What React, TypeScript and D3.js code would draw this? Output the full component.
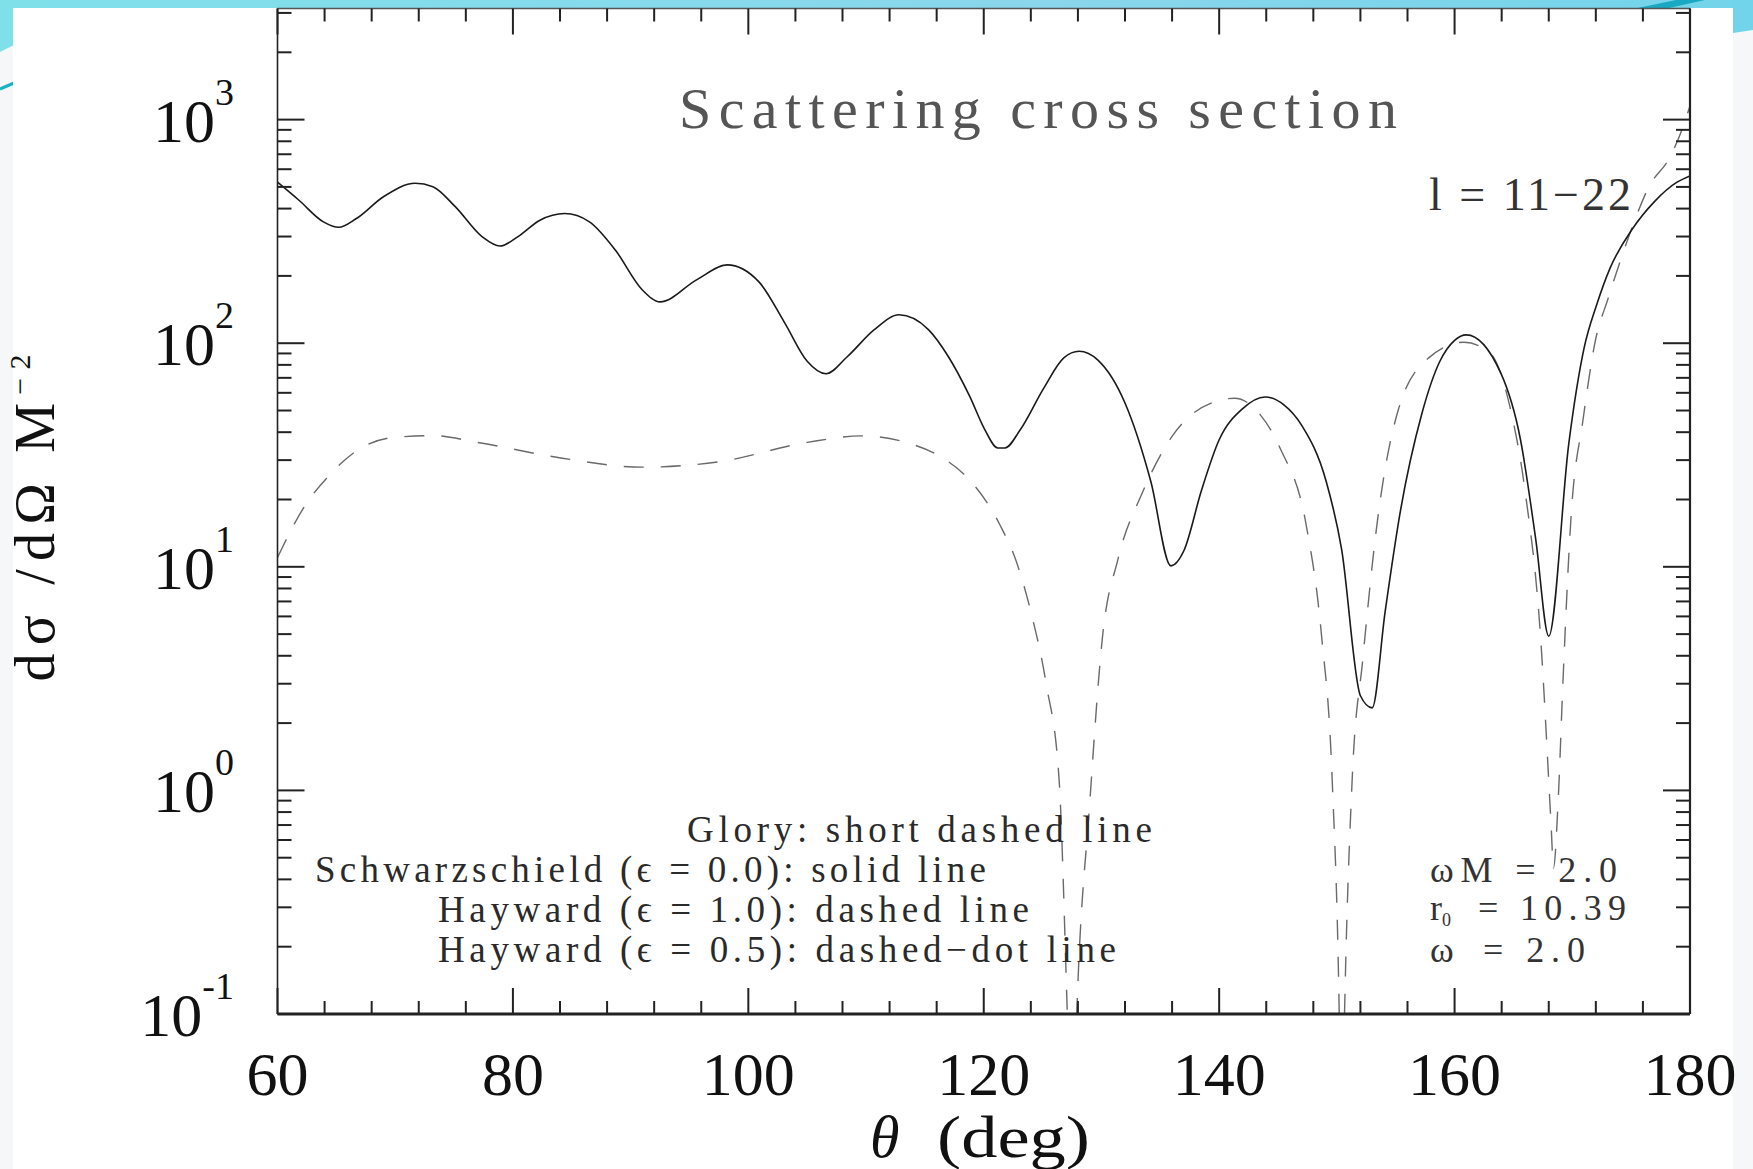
import React from 'react';
import * as d3 from 'd3';

// Schwarzschild (solid) differential cross section
const solidTheta = [60, 61.8, 63.9, 65.2, 66.7, 69.0, 71.7, 73.2, 75.1, 77.4, 78.9, 80.4, 82.3, 84.4, 86.5, 88.7, 91.0, 92.5, 95.6, 98.2, 100.9, 103.1, 105.0, 106.6, 108.4, 110.7, 112.8, 115.3, 117.0, 118.8, 120.1, 121.2, 121.8, 123.1, 125.1, 126.8, 128.1, 129.7, 132.0, 134.2, 135.9, 137.0, 138.5, 140.0, 142.0, 143.9, 145.5, 147.0, 149.1, 150.4, 152.0, 153.0, 154.1, 155.4, 157.2, 158.7, 160.0, 161.0, 163.9, 165.6, 166.9, 168.0, 169.7, 171.0, 172.1, 173.2, 175.1, 177.0, 178.9, 180];
const solidValue = [525, 437, 349, 330, 361, 452, 519, 501, 408, 299, 272, 299, 355, 380, 349, 261, 173, 153, 192, 224, 188, 123, 83, 73, 87, 115, 134, 115, 87, 58, 41, 34, 34, 41, 63, 86, 92, 84, 54, 24, 10.1, 11.8, 22, 37, 51, 57.5, 53, 43, 24, 12, 2.65, 2.34, 6.3, 17.8, 48, 82, 103, 109, 74, 37, 13.2, 4.9, 35.5, 95, 150, 216, 324, 431, 525, 560];

// Hayward eps = 1.0 (dashed)
const dashTheta = [60, 62.2, 64.5, 66.7, 70.1, 73.2, 77.0, 84.2, 91.0, 97.5, 105.0, 109.6, 113.4, 116.8, 118.2, 121.4, 122.7, 124.0, 125.3, 126.4, 127.1, 127.5, 127.9, 129.0, 130.1, 131.4, 133.5, 136.1, 139.6, 141.3, 143.5, 145.2, 147.4, 148.7, 149.6, 150.2, 150.4, 150.65, 151.3, 152.2, 153.5, 155.2, 157.8, 160.8, 163.0, 164.7, 166.0, 167.3, 168.2, 168.4, 168.8, 169.2, 169.9, 170.9, 172.0, 173.0, 174.9, 176.5, 178.3, 179.2, 180];
const dashValue = [11, 18.3, 26, 33, 38, 38.6, 36, 30.6, 27.9, 29.5, 36, 38.5, 36, 30, 26.3, 15.3, 10.8, 6.3, 3.0, 1.12, 0.1, 0.02, 0.1, 0.87, 4.92, 10.8, 21.6, 39, 54.7, 56.7, 47.8, 33.7, 15.3, 4.9, 1.12, 0.1, 0.02, 0.1, 1.12, 3.85, 16.9, 50, 86, 101, 90.6, 52, 21.6, 4.9, 0.7, 0.45, 0.9, 3.0, 16.9, 45, 105, 156, 310, 500, 680, 870, 1150];

const xTickLabels = ['60', '80', '100', '120', '140', '160', '180'];
const yTickExponents = ['-1', '0', '1', '2', '3'];
const legendLines = [
  'Glory: short dashed line',
  'Schwarzschield (\u03F5 = 0.0): solid line',
  'Hayward (\u03F5 = 1.0): dashed line',
  'Hayward (\u03F5 = 0.5): dashed\u2212dot line',
];

const W = 1753;
const H = 1169;
const L = 277.5, R = 1690, T = 8.5, B = 1014;
const serif = "'Liberation Serif', 'DejaVu Serif', serif";

export default function App() {
  const x = d3.scaleLinear().domain([60, 180]).range([L, R]);
  const y = d3.scaleLog().domain([0.1, 3140]).range([B, T]);

  const line = d3.line<[number, number]>()
    .x(d => x(d[0]))
    .y(d => y(d[1]))
    .curve(d3.curveMonotoneX);

  const solidPath = line(solidTheta.map((t, i) => [t, solidValue[i]]) as [number, number][]) || '';
  const dashPath = line(dashTheta.map((t, i) => [t, dashValue[i]]) as [number, number][]) || '';

  const xMajor = d3.range(60, 181, 20);
  const xMinor = d3.range(60, 181, 4).filter(v => (v - 60) % 20 !== 0);
  const yMajor = [0.1, 1, 10, 100, 1000];
  const yMinor: number[] = [];
  yMajor.forEach(d => {
    for (let m = 2; m <= 9; m++) {
      const v = d * m;
      if (v < 3140) yMinor.push(v);
    }
  });

  const legendPos = [
    { x: 687, y: 842, w: 465 },
    { x: 315, y: 882, w: 671 },
    { x: 438, y: 922, w: 591 },
    { x: 438, y: 962, w: 678 },
  ];

  return (
    <svg width={W} height={H} style={{ position: 'absolute', left: 0, top: 0 }}>
      <defs>
        <clipPath id="plotClip">
          <rect x={L} y={T} width={R - L} height={B - T} />
        </clipPath>
        <linearGradient id="band" x1="0" x2="1" y1="0" y2="0">
          <stop offset="0" stopColor="#7fe0ea" />
          <stop offset="0.6" stopColor="#8ad6ec" />
          <stop offset="1" stopColor="#72d4ea" />
        </linearGradient>
      </defs>

      {/* slide background and decoration */}
      <rect x={0} y={0} width={W} height={H} fill="#f5f7f8" />
      <rect x={0} y={0} width={W} height={10} fill="url(#band)" />
      <path d="M0,0 L14,0 L14,45 L0,52 Z" fill="#7fe0ea" />
      <path d="M1733,0 L1753,0 L1753,30 L1733,33 Z" fill="#72d4ea" />
      <path d="M1628,10 L1676,0 L1705,0 L1660,10 Z" fill="#1aa9c2" />
      <line x1={0} y1={89} x2={14} y2={83} stroke="#1ab3c3" strokeWidth={3} />
      <rect x={13} y={8} width={1720} height={H - 8} fill="#ffffff" />

      {/* curves */}
      <g clipPath="url(#plotClip)" fill="none">
        <path d={dashPath} stroke="#6a6a6a" strokeWidth={1.4} strokeDasharray="20,17" />
        <path d={solidPath} stroke="#1a1a1a" strokeWidth={1.6} />
      </g>

      {/* frame */}
      <g stroke="#222" fill="none">
        <line x1={L} y1={T} x2={R} y2={T} strokeWidth={1.5} stroke="#555" />
        <line x1={L} y1={T} x2={L} y2={B} strokeWidth={1.6} />
        <line x1={R} y1={T} x2={R} y2={B} strokeWidth={2.2} />
        <line x1={L} y1={B} x2={R} y2={B} strokeWidth={3} />
      </g>

      {/* x ticks */}
      <g stroke="#222" strokeWidth={2}>
        {xMajor.map(v => (
          <g key={'xM' + v}>
            <line x1={x(v)} x2={x(v)} y1={B} y2={B - 26} />
            <line x1={x(v)} x2={x(v)} y1={T} y2={T + 26} />
          </g>
        ))}
        {xMinor.map(v => (
          <g key={'xm' + v}>
            <line x1={x(v)} x2={x(v)} y1={B} y2={B - 13} />
            <line x1={x(v)} x2={x(v)} y1={T} y2={T + 13} />
          </g>
        ))}
      </g>

      {/* y ticks */}
      <g stroke="#222" strokeWidth={2}>
        {yMajor.map(v => (
          <g key={'yM' + v}>
            <line x1={L} x2={L + 27} y1={y(v)} y2={y(v)} />
            <line x1={R} x2={R - 27} y1={y(v)} y2={y(v)} />
          </g>
        ))}
        {yMinor.map(v => (
          <g key={'ym' + v}>
            <line x1={L} x2={L + 14} y1={y(v)} y2={y(v)} />
            <line x1={R} x2={R - 14} y1={y(v)} y2={y(v)} />
          </g>
        ))}
      </g>

      {/* x tick labels */}
      <g fontFamily={serif} fontSize={62} fill="#111" textAnchor="middle">
        {xMajor.map((v, i) => (
          <text key={'xl' + v} x={x(v)} y={1095}>{xTickLabels[i]}</text>
        ))}
      </g>

      {/* y tick labels */}
      <g fontFamily={serif} fill="#111" textAnchor="end">
        {yMajor.map((v, i) => (
          <text key={'yl' + v} x={234} y={y(v) + 22} fontSize={62}>
            10<tspan fontSize={38} dy={-37}>{yTickExponents[i]}</tspan>
          </text>
        ))}
      </g>

      {/* axis titles */}
      <text x={870} y={1157} fontFamily={serif} fontSize={60} fill="#111">
        <tspan fontStyle="italic">{'\u03B8'}</tspan>
        <tspan x={937} textLength={153} lengthAdjust="spacingAndGlyphs">(deg)</tspan>
      </text>
      <text transform="translate(54,518) rotate(-90)" fontFamily={serif} fontSize={56} fill="#111"
        textAnchor="middle" textLength={327} lengthAdjust="spacing">
        {'d\u03C3 /d\u03A9  M'}<tspan fontSize={30} dy={-24}>{'\u22122'}</tspan>
      </text>

      {/* title and annotations */}
      <text x={679} y={128} fontFamily={serif} fontSize={58} fill="#555" textLength={718} lengthAdjust="spacing">
        Scattering cross section
      </text>
      <text x={1429} y={210} fontFamily={serif} fontSize={46} fill="#333" textLength={202} lengthAdjust="spacing">
        {'l = 11\u221222'}
      </text>

      <g fontFamily={serif} fontSize={37} fill="#2a2a2a">
        {legendLines.map((s, i) => (
          <text key={'lg' + i} x={legendPos[i].x} y={legendPos[i].y} textLength={legendPos[i].w} lengthAdjust="spacing">
            {s}
          </text>
        ))}
      </g>

      <g fontFamily={serif} fontSize={36} fill="#333">
        <text x={1430} y={882} textLength={187} lengthAdjust="spacing">{'\u03C9M = 2.0'}</text>
        <text x={1430} y={920}>
          r<tspan fontSize={18} dy={6}>0</tspan>
          <tspan x={1478} dy={-6} textLength={148} lengthAdjust="spacing">= 10.39</tspan>
        </text>
        <text x={1430} y={962}>
          {'\u03C9'}<tspan x={1483} textLength={102} lengthAdjust="spacing">= 2.0</tspan>
        </text>
      </g>
    </svg>
  );
}
